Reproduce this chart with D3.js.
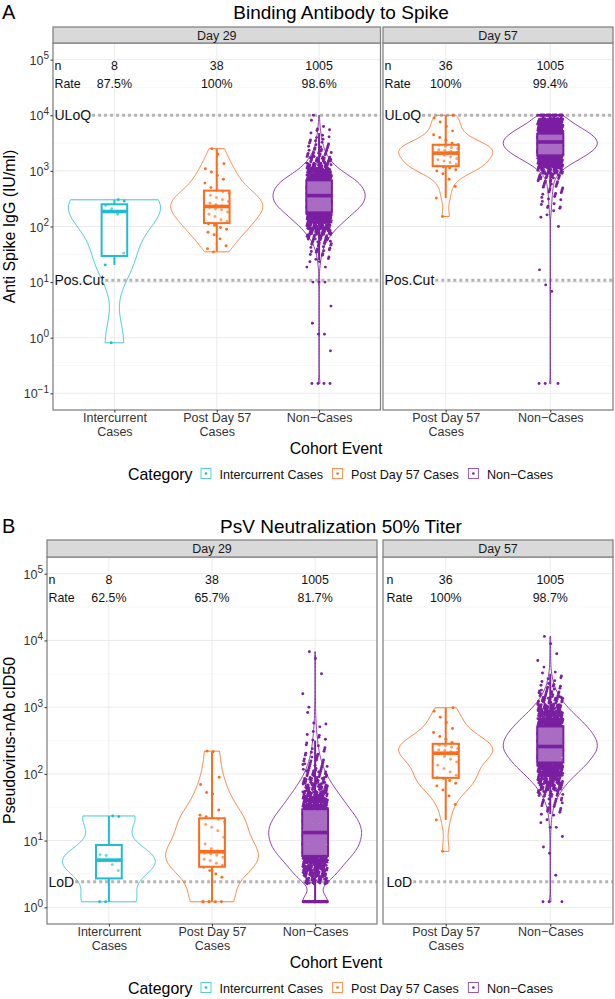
<!DOCTYPE html>
<html><head><meta charset="utf-8">
<script src="https://cdn.jsdelivr.net/npm/d3@7/dist/d3.min.js"></script>
<style>html,body{margin:0;padding:0;background:#fff;} text{font-family:"Liberation Sans",Arial,Helvetica,sans-serif;}</style>
</head><body>
<svg id="chart" width="615" height="999" xmlns="http://www.w3.org/2000/svg"></svg>
<script>
// ================= DATA =================
const categories = ["Intercurrent Cases", "Post Day 57 Cases", "Non-Cases"];
const categoryTickLabels = [["Intercurrent", "Cases"], ["Post Day 57", "Cases"], ["Non\u2212Cases"]];
const legendLabels = ["Intercurrent Cases", "Post Day 57 Cases", "Non\u2212Cases"];
const dayLabels = ["Day 29", "Day 57"];
const cats29 = ["Intercurrent Cases", "Post Day 57 Cases", "Non-Cases"];
const cats57 = ["Post Day 57 Cases", "Non-Cases"];
const yTicksA = [0.1, 1, 10, 100, 1000, 10000, 100000];
const yTicksB = [1, 10, 100, 1000, 10000, 100000];
const titles = ["Binding Antibody to Spike", "PsV Neutralization 50% Titer"];
const yTitles = ["Anti Spike IgG (IU/ml)", "Pseudovirus-nAb cID50"];
const xTitle = "Cohort Event";
const legendTitle = "Category";

const nA29 = ["8", "38", "1005"], rateA29 = ["87.5%", "100%", "98.6%"];
const nA57 = ["36", "1005"], rateA57 = ["100%", "99.4%"];
const nB29 = ["8", "38", "1005"], rateB29 = ["62.5%", "65.7%", "81.7%"];
const nB57 = ["36", "1005"], rateB57 = ["100%", "98.7%"];

const refLabelsA = ["ULoQ", "Pos.Cut"], refValuesA = [10000, 10.84];
const refLabelsB = ["LoD"], refValuesB = [2.42];

// box stats: [lower whisker, q1, median, q3, upper whisker]
const boxA29 = [[20.4, 29.5, 186, 251, 302], [35.5, 115, 229, 442, 2512], [25, 180, 359, 676, 4786]];
const boxA57 = [[324, 1216, 2089, 2951, 10000], [501, 1905, 3311, 4677, 10000]];
const boxB29 = [[1.21, 2.71, 5.1, 8.59, 23.4], [1.21, 4.05, 6.81, 21.6, 219], [1.21, 5.89, 13.2, 29.5, 316]];
const boxB57 = [[20.4, 87.1, 204, 282, 977], [25, 148, 257, 513, 3162]];

// individual values (small groups)
const icA29 = [0.81, 20.4, 33.1, 166, 209, 240, 288, 302];
const pdA29 = [35, 40, 45, 60, 71, 79, 89, 96, 105, 112, 123, 132, 151, 166, 182, 200, 209, 219, 224, 234, 246, 263, 282, 302, 331, 363, 398, 427, 447, 501, 603, 708, 832, 955, 1096, 1349, 1995, 2512];
const pdA57 = [151, 324, 525, 708, 891, 1000, 1047, 1122, 1175, 1230, 1318, 1413, 1514, 1585, 1660, 1778, 1905, 2042, 2138, 2239, 2344, 2399, 2512, 2630, 2754, 2884, 2951, 3162, 3548, 3981, 4467, 5248, 6310, 7586, 8913, 10000];
const icB29 = [1.21, 1.21, 3.55, 4.37, 5.97, 6.17, 22.9, 23.4];
const pdB29 = [1.21, 1.21, 1.21, 1.21, 1.21, 1.21, 2.82, 3.16, 3.55, 3.98, 4.27, 4.57, 5.01, 5.25, 5.62, 6.03, 6.31, 6.46, 6.61, 7.01, 7.59, 8.91, 11.2, 14.1, 15.8, 17.4, 19.1, 20.9, 21.9, 22.9, 24.0, 28.8, 50.1, 52.5, 69.2, 89.1, 214, 219];
const pdB57 = [6.9, 20.4, 34.7, 46.8, 57.5, 66.1, 72.4, 79.4, 85.1, 88.1, 95.5, 107, 120, 135, 151, 166, 182, 200, 209, 214, 224, 229, 240, 251, 263, 269, 279, 295, 331, 363, 417, 479, 589, 708, 871, 977];

// Non-Cases (n=1005): values read in 0.1-decade classes (value, count) + exact values (value, count)
const ncA29BinVals = [25, 31.6, 39.8, 50.1, 63.1, 79.4, 100, 126, 158, 200, 251, 316, 398, 501, 631, 794, 1000, 1259, 1585, 1995, 2512, 3162, 3981, 5012, 6310, 7943];
const ncA29BinCounts = [3, 5, 8, 13, 20, 29, 40, 53, 66, 80, 92, 98, 98, 92, 84, 66, 45, 32, 22, 15, 10, 7, 5, 3, 2, 1];
const ncA29ExactVals = [0.15, 0.58, 1.16, 1.82, 3.7, 10, 18.6, 23.4, 10000];
const ncA29ExactCounts = [4, 1, 2, 1, 1, 3, 2, 1, 1];

const ncA57BinVals = [158, 200, 251, 316, 398, 501, 631, 794, 1000, 1259, 1585, 1995, 2512, 3162, 3981, 5012, 6310, 7943];
const ncA57BinCounts = [2, 3, 4, 5, 6, 8, 10, 17, 31, 52, 80, 107, 128, 136, 128, 107, 80, 55];
const ncA57ExactVals = [0.15, 6.8, 8.9, 16.6, 100, 10000];
const ncA57ExactCounts = [3, 1, 1, 1, 1, 39];

const ncB29BinVals = [2.51, 3.16, 3.98, 5.01, 6.31, 7.94, 10, 12.6, 15.8, 20, 25.1, 31.6, 39.8, 50.1, 63.1, 79.4, 100, 126, 158, 200, 251, 316, 398, 501, 631, 794];
const ncB29BinCounts = [30, 36, 44, 52, 67, 73, 77, 79, 79, 75, 64, 56, 48, 40, 32, 24, 18, 13, 10, 7, 5, 4, 3, 2, 1, 1];
const ncB29ExactVals = [1.21, 1000, 1585, 3162, 5370, 6760];
const ncB29ExactCounts = [60, 1, 1, 1, 1, 1];

const ncB57BinVals = [20, 25.1, 31.6, 39.8, 50.1, 63.1, 79.4, 100, 126, 158, 200, 251, 316, 398, 501, 631, 794, 1000, 1259, 1585, 1995, 2512, 3162];
const ncB57BinCounts = [2, 4, 7, 11, 19, 28, 41, 55, 70, 83, 95, 100, 99, 90, 79, 65, 50, 36, 24, 16, 9, 5, 3];
const ncB57ExactVals = [1.21, 3.02, 6.46, 8, 11.5, 15.8, 3981, 5012, 6310, 8913, 11482];
const ncB57ExactCounts = [3, 1, 1, 1, 1, 2, 1, 1, 1, 1, 1];

// ================= STYLE =================
const colors = {"Intercurrent Cases": "#1fbdd1", "Post Day 57 Cases": "#ff6b1c", "Non-Cases": "#7b1fa2"};
const legendColors = ["#1fbdd1", "#ff6b1c", "#7b1fa2"];
const svg = d3.select("#chart");

function fromValues(vals) { return vals.map(v => ({v: v, binned: false})); }
function fromBins(bv, bc, ev, ec) {
  const out = [];
  bv.forEach((v, i) => { for (let k = 0; k < bc[i]; k++) out.push({v: v, binned: true}); });
  ev.forEach((v, i) => { for (let k = 0; k < ec[i]; k++) out.push({v: v, binned: false}); });
  return out;
}

function kde(points) {
  const L = points.map(p => Math.log10(p.v)).sort(d3.ascending);
  const n = L.length;
  const sd = d3.deviation(L);
  const iqr = d3.quantileSorted(L, 0.75) - d3.quantileSorted(L, 0.25);
  let lo = Math.min(sd, iqr / 1.34);
  if (!(lo > 0)) lo = sd > 0 ? sd : 1;
  const bw = 0.9 * lo * Math.pow(n, -0.2);
  const m = 180, out = [];
  for (let k = 0; k <= m; k++) {
    const t = L[0] + (L[n - 1] - L[0]) * k / m;
    let s = 0;
    for (const l of L) { const z = (t - l) / bw; s += Math.exp(-0.5 * z * z); }
    out.push([t, s]);
  }
  const mx = d3.max(out, d => d[1]);
  return out.map(d => [Math.pow(10, d[0]), d[1] / mx]);
}

function textWidth(str, size) {
  const t = svg.append("text").attr("font-size", size).text(str);
  const w = t.node().getComputedTextLength();
  t.remove();
  return w;
}

function drawPanel(p) {
  const g = svg.append("g");
  const x = d3.scalePoint().domain(p.cats).range([p.x0, p.x1]).padding(0.6);
  const unit = x.step();
  const y = p.y;
  const [lo, hi] = y.domain().map(Math.log10);
  // minor grid
  for (let e = Math.ceil(lo - 0.5) + 0.5; e < hi; e += 1) {
    g.append("line").attr("x1", p.x0).attr("x2", p.x1).attr("y1", y(Math.pow(10, e))).attr("y2", y(Math.pow(10, e)))
      .attr("stroke", "#f1f1f1").attr("stroke-width", 0.6);
  }
  p.ticks.forEach(t => g.append("line").attr("x1", p.x0).attr("x2", p.x1).attr("y1", y(t)).attr("y2", y(t))
    .attr("stroke", "#e9e9e9").attr("stroke-width", 0.9));
  p.cats.forEach(c => g.append("line").attr("x1", x(c)).attr("x2", x(c)).attr("y1", p.yTop).attr("y2", p.yBot)
    .attr("stroke", "#e9e9e9").attr("stroke-width", 0.9));

  // reference lines with labels
  p.refLabels.forEach((lab, i) => {
    const yy = y(p.refValues[i]);
    const tx = p.x0 + p.refPad;
    g.append("text").attr("x", tx).attr("y", yy).attr("dy", "0.36em").attr("font-size", 14).attr("fill", "#111").text(lab);
    const w = textWidth(lab, 14);
    g.append("line").attr("x1", tx + w + 1).attr("x2", p.x1).attr("y1", yy).attr("y2", yy)
      .attr("stroke", "#b4b4b4").attr("stroke-width", 3).attr("stroke-dasharray", "3,3");
  });

  p.cats.forEach((c, ci) => {
    const col = colors[c];
    const cx = x(c);
    const pts = p.groups[ci];
    const hw = 0.45 * unit;
    // violin
    const dens = kde(pts);
    const area = d3.area().y(d => y(d[0])).x0(d => cx - d[1] * hw).x1(d => cx + d[1] * hw);
    g.append("path").attr("d", area(dens)).attr("fill", "none").attr("stroke", col).attr("stroke-width", 1).attr("opacity", 0.85);
    // jittered points
    const jw = 0.12 * unit;
    pts.forEach((pt, i) => {
      const f1 = (i * 0.7548776662 + 0.37) % 1;
      const f2 = (i * 0.5698402910 + 0.61) % 1;
      const vv = pt.binned ? pt.v * Math.pow(10, (f2 - 0.5) * 0.1) : pt.v;
      g.append("circle").attr("cx", cx + (f1 - 0.5) * 2 * jw).attr("cy", y(vv)).attr("r", 1.45).attr("fill", col);
    });
    // box
    const b = p.boxes[ci];
    const bw = 0.25 * unit;
    g.append("line").attr("x1", cx).attr("x2", cx).attr("y1", y(b[3])).attr("y2", y(b[4])).attr("stroke", col).attr("stroke-width", 2);
    g.append("line").attr("x1", cx).attr("x2", cx).attr("y1", y(b[1])).attr("y2", y(b[0])).attr("stroke", col).attr("stroke-width", 2);
    g.append("rect").attr("x", cx - bw / 2).attr("width", bw).attr("y", y(b[3])).attr("height", y(b[1]) - y(b[3]))
      .attr("fill", "#fff").attr("fill-opacity", 0.35).attr("stroke", col).attr("stroke-width", 2);
    g.append("line").attr("x1", cx - bw / 2).attr("x2", cx + bw / 2).attr("y1", y(b[2])).attr("y2", y(b[2])).attr("stroke", col).attr("stroke-width", 3.6);
  });

  // header n / Rate
  g.append("text").attr("x", p.x0 + p.refPad).attr("y", p.yTop + 27).attr("font-size", 12.4).attr("fill", "#111").text("n");
  g.append("text").attr("x", p.x0 + p.refPad).attr("y", p.yTop + 45).attr("font-size", 12.4).attr("fill", "#111").text("Rate");
  p.cats.forEach((c, ci) => {
    g.append("text").attr("x", x(c)).attr("y", p.yTop + 27).attr("font-size", 12.4).attr("text-anchor", "middle").attr("fill", "#111").text(p.n[ci]);
    g.append("text").attr("x", x(c)).attr("y", p.yTop + 45).attr("font-size", 12.4).attr("text-anchor", "middle").attr("fill", "#111").text(p.rate[ci]);
  });

  // border
  g.append("rect").attr("x", p.x0).attr("y", p.yTop).attr("width", p.x1 - p.x0).attr("height", p.yBot - p.yTop)
    .attr("fill", "none").attr("stroke", "#858585").attr("stroke-width", 1.3);
  // strip
  g.append("rect").attr("x", p.x0).attr("y", p.stripTop).attr("width", p.x1 - p.x0).attr("height", p.yTop - p.stripTop)
    .attr("fill", "#d9d9d9").attr("stroke", "#858585").attr("stroke-width", 1.3);
  g.append("text").attr("x", (p.x0 + p.x1) / 2).attr("y", (p.stripTop + p.yTop) / 2).attr("dy", "0.36em")
    .attr("text-anchor", "middle").attr("font-size", 12.5).attr("fill", "#1a1a1a").text(p.day);

  // x axis
  const xa = g.append("g").attr("transform", `translate(0,${p.yBot})`)
    .call(d3.axisBottom(x).tickSize(2.5).tickPadding(2).tickFormat(c => c));
  xa.select(".domain").remove();
  xa.selectAll(".tick line").attr("stroke", "#333");
  xa.selectAll(".tick text").each(function(c) {
    const t = d3.select(this);
    t.text(null).attr("font-size", 12.5).attr("fill", "#333").attr("font-family", null).attr("dy", null).attr("y", 12);
    categoryTickLabels[categories.indexOf(c)].forEach((line, li) => {
      t.append("tspan").attr("x", 0).attr("y", 12 + li * 14).text(line);
    });
  });
  // y axis
  if (p.showY) {
    const ya = g.append("g").attr("transform", `translate(${p.x0},0)`)
      .call(d3.axisLeft(y).tickValues(p.ticks).tickSize(2.5).tickPadding(1.5).tickFormat(() => ""));
    ya.select(".domain").remove();
    ya.selectAll(".tick line").attr("stroke", "#333");
    ya.selectAll(".tick text").each(function(v) {
      const t = d3.select(this);
      const e = Math.round(Math.log10(v));
      t.attr("font-size", 12.5).attr("fill", "#333").attr("font-family", null).attr("dy", "0.36em");
      t.append("tspan").text("10");
      t.append("tspan").attr("dy", -5.5).attr("font-size", 10).text(e < 0 ? "\u2212" + (-e) : String(e));
    });
  }
}

function drawRow(r) {
  svg.append("text").attr("x", 2).attr("y", r.titleY).attr("font-size", 20).attr("fill", "#000").text(r.letter);
  svg.append("text").attr("x", 341).attr("y", r.titleY).attr("font-size", 19).attr("text-anchor", "middle").attr("fill", "#000").text(r.title);
  const y = d3.scaleLog().domain(r.domain).range([r.yBot, r.yTop]);
  r.panels.forEach(p => drawPanel(Object.assign({y: y, yTop: r.yTop, yBot: r.yBot, stripTop: r.stripTop, ticks: r.ticks,
    refLabels: r.refLabels, refValues: r.refValues}, p)));
  // y title
  svg.append("text").attr("transform", `translate(15,${(r.yTop + r.yBot) / 2}) rotate(-90)`)
    .attr("text-anchor", "middle").attr("font-size", 15.9).attr("fill", "#000").text(r.yTitle);
  // x title
  svg.append("text").attr("x", 336).attr("y", r.yBot + 43.5).attr("text-anchor", "middle").attr("font-size", 15.9).attr("fill", "#000").text(xTitle);
  // legend
  let lx = 128;
  const ly = r.yBot + 64;
  svg.append("text").attr("x", lx).attr("y", ly).attr("dy", "0.36em").attr("font-size", 15.9).attr("fill", "#000").text(legendTitle);
  lx += textWidth(legendTitle, 15.9) + 8;
  legendLabels.forEach((lab, i) => {
    svg.append("rect").attr("x", lx + 0.5).attr("y", ly - 5.5).attr("width", 10).attr("height", 10)
      .attr("fill", "#fff").attr("stroke", legendColors[i]).attr("stroke-width", 1).attr("opacity", 0.75);
    svg.append("circle").attr("cx", lx + 5.5).attr("cy", ly - 0.5).attr("r", 1.3).attr("fill", legendColors[i]);
    lx += 11 + 8;
    svg.append("text").attr("x", lx).attr("y", ly).attr("dy", "0.36em").attr("font-size", 12.6).attr("fill", "#111").text(lab);
    lx += textWidth(lab, 12.6) + 9;
  });
}

drawRow({
  letter: "A", title: titles[0], titleY: 19, yTitle: yTitles[0],
  domain: [Math.pow(10, -1.3), Math.pow(10, 5.3)], yTop: 43, yBot: 410, stripTop: 27, ticks: yTicksA,
  refLabels: refLabelsA, refValues: refValuesA,
  panels: [
    {day: dayLabels[0], cats: cats29, x0: 53, x1: 380.5, showY: true, refPad: 1.5, n: nA29, rate: rateA29, boxes: boxA29,
     groups: [fromValues(icA29), fromValues(pdA29), fromBins(ncA29BinVals, ncA29BinCounts, ncA29ExactVals, ncA29ExactCounts)]},
    {day: dayLabels[1], cats: cats57, x0: 383, x1: 613, showY: false, refPad: 1.5, n: nA57, rate: rateA57, boxes: boxA57,
     groups: [fromValues(pdA57), fromBins(ncA57BinVals, ncA57BinCounts, ncA57ExactVals, ncA57ExactCounts)]}
  ]
});
drawRow({
  letter: "B", title: titles[1], titleY: 533, yTitle: yTitles[1],
  domain: [Math.pow(10, -0.25), Math.pow(10, 5.25)], yTop: 557, yBot: 924, stripTop: 540, ticks: yTicksB,
  refLabels: refLabelsB, refValues: refValuesB,
  panels: [
    {day: dayLabels[0], cats: cats29, x0: 47, x1: 377, showY: true, refPad: 1.5, n: nB29, rate: rateB29, boxes: boxB29,
     groups: [fromValues(icB29), fromValues(pdB29), fromBins(ncB29BinVals, ncB29BinCounts, ncB29ExactVals, ncB29ExactCounts)]},
    {day: dayLabels[1], cats: cats57, x0: 383, x1: 613, showY: false, refPad: 3.5, n: nB57, rate: rateB57, boxes: boxB57,
     groups: [fromValues(pdB57), fromBins(ncB57BinVals, ncB57BinCounts, ncB57ExactVals, ncB57ExactCounts)]}
  ]
});
</script>
</body></html>
